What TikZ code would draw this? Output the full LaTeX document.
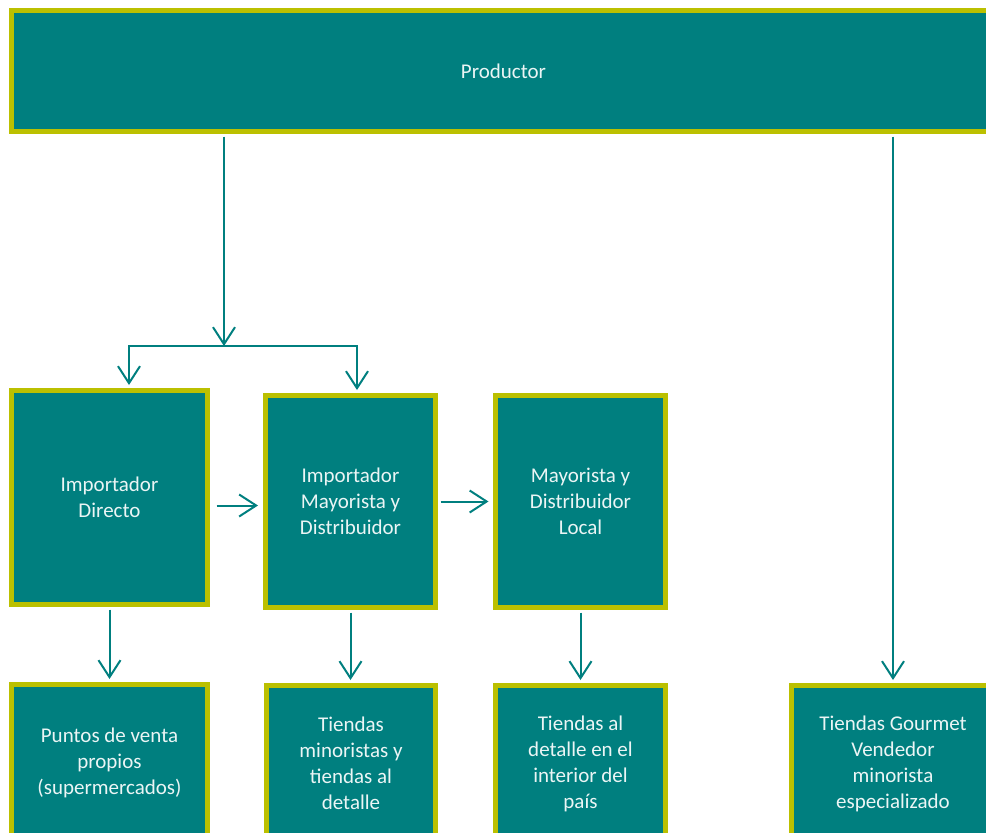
\documentclass[tikz,border=0pt]{standalone}
\usepackage{fontspec}
\setmainfont{Carlito}
\usetikzlibrary{arrows.meta,positioning}
\definecolor{canal}{HTML}{007F7F}
\definecolor{borde}{HTML}{BBC000}

\begin{document}
\begin{tikzpicture}[x=1pt,y=-1pt,
		caja/.style={draw=borde,line width=5pt,fill=canal,text=white!92!canal,align=center,inner sep=0pt,font=\fontsize{21}{26}\selectfont},
		linea/.style={draw=canal,line width=2pt},
		flecha/.style={linea,-{Straight Barb[length=17pt,width=22pt,line width=2pt]}}]
		\useasboundingbox (0,0) rectangle (986,833);
		\clip (0,0) rectangle (986,833);

		\node[caja,minimum width=984pt,minimum height=121pt] (prod) at (503.5,71) {Productor};

		\node[caja,minimum width=196pt,minimum height=214pt] (imp) at (109.5,497.5) {Importador\\Directo};
		\node[caja,minimum width=170pt,minimum height=212pt] (may) at (350.5,501.5) {Importador\\Mayorista y\\Distribuidor};
		\node[caja,minimum width=170pt,minimum height=212pt] (loc) at (580.5,501.5) {Mayorista y\\Distribuidor\\Local};

		\node[caja,minimum width=196pt,minimum height=156pt] (pv) at (109.5,762.5) {Puntos de venta\\propios\\(supermercados)};
		\node[caja,minimum width=169pt,minimum height=156pt] (tm) at (351,763.5) {Tiendas\\minoristas y\\tiendas al\\detalle};
		\node[caja,minimum width=170pt,minimum height=156pt] (ti) at (580.5,763.5) {Tiendas al\\detalle en el\\interior del\\pa\'is};
		\node[caja,minimum width=203pt,minimum height=156pt] (tg) at (893,763.5) {Tiendas Gourmet\\Vendedor\\minorista\\especializado};

		% reparto hacia los importadores
		\coordinate (split) at (224,346);
		\coordinate (splitL) at (129,346);
		\coordinate (splitR) at (357,346);
		\draw[flecha,shorten <=2.5pt] (split |- prod.south) -- (split);
		\draw[linea,line cap=rect] (splitL) -- (splitR);
		\draw[flecha,shorten >=3pt] (splitL) -- (splitL |- imp.north);
		\draw[flecha,shorten >=3pt] (splitR) -- (splitR |- may.north);
		\draw[flecha,shorten <=2.5pt,shorten >=3pt] (tg.north |- prod.south) -- (tg.north);

		\draw[flecha,shorten <=6.5pt,shorten >=5pt] ([yshift=-8pt]imp.east) -- ([yshift=-8pt]imp.east -| may.west);
		\draw[flecha,shorten <=2.5pt,shorten >=4.5pt] (may.east) -- (loc.west);

		\foreach \a/\b in {imp/pv,may/tm,loc/ti} { \draw[flecha,shorten <=2.5pt,shorten >=3pt] (\a.south) -- (\a.south |- \b.north);}
	\end{tikzpicture}
\end{document}
